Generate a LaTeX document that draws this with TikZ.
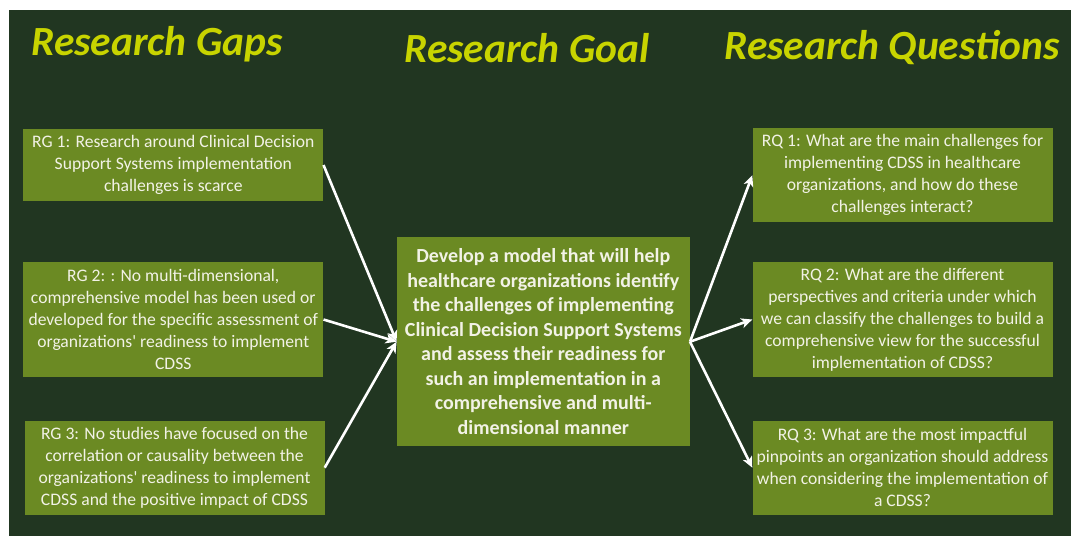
\documentclass[tikz,border=0pt]{standalone}
\usepackage{fontspec}
\setmainfont{Carlito}[Ligatures=TeXOff]
\usetikzlibrary{arrows.meta}
\definecolor{boardbg}{HTML}{213621}
\definecolor{boxfill}{HTML}{6B8A23}
\definecolor{headcol}{HTML}{C8D400}
\definecolor{boxtext}{HTML}{F2F2E6}
\tikzset{
  heading/.style={text=headcol, font=\fontsize{41.5}{45}\selectfont\bfseries\itshape, inner sep=0pt},
  infobox/.style={fill=boxfill, text=boxtext, align=center, inner sep=0pt,
    minimum width=300pt, font=\fontsize{17.6}{22}\selectfont},
  goalbox/.style={fill=boxfill, text=boxtext, align=center, inner sep=0pt,
    minimum width=293pt, minimum height=208.7pt, font=\fontsize{20}{24.5}\selectfont\bfseries},
  link/.style={draw=white, line width=2.6pt, -{Stealth[length=11pt,width=10pt,inset=3pt]}}
}
\begin{document}
\begin{tikzpicture}[x=1pt,y=-1pt]
  \useasboundingbox (0,0) rectangle (1071,536);
  \fill[white] (0,0) rectangle (1071,536);
  \fill[boardbg] (9,10) rectangle (1071,536);

  % column headings
  \node[heading] (hgaps) at (157,44) {Research Gaps};
  \node[heading] (hgoal) at (527,48) {Research Goal};
  \node[heading] (hques) at (892,48) {Research Questions};

  % research gaps
  \node[infobox, minimum height=71.4pt] (rg1) at (173.3,165)
    {RG 1: Research around Clinical Decision\\Support Systems implementation\\challenges is scarce};
  \node[infobox, minimum height=115.6pt] (rg2) at (173.3,319.5)
    {RG 2: : No multi-dimensional,\\comprehensive model has been used or\\developed for the specific assessment of\\organizations' readiness to implement\\CDSS};
  \node[infobox, minimum height=94pt] (rg3) at (174.5,467.7)
    {RG 3: No studies have focused on the\\correlation or causality between the\\organizations' readiness to implement\\CDSS and the positive impact of CDSS};

  % research goal
  \node[goalbox] (goal) at (543.3,341.7)
    {Develop a model that will help\\healthcare organizations identify\\the challenges of implementing\\Clinical Decision Support Systems\\and assess their readiness for\\such an implementation in a\\comprehensive and multi-\\dimensional manner};

  % research questions
  \node[infobox, minimum height=94pt] (rq1) at (902.5,175.3)
    {RQ 1: What are the main challenges for\\implementing CDSS in healthcare\\organizations, and how do these\\challenges interact?};
  \node[infobox, minimum height=115.6pt] (rq2) at (902.5,319.5)
    {RQ 2: What are the different\\perspectives and criteria under which\\we can classify the challenges to build a\\comprehensive view for the successful\\implementation of CDSS?};
  \node[infobox, minimum height=94pt] (rq3) at (902.5,467.7)
    {RQ 3: What are the most impactful\\pinpoints an organization should address\\when considering the implementation of\\a CDSS?};

  % connectors
  \draw[link] (rg1.east) -- (goal.west);
  \draw[link] (rg2.east) -- (goal.west);
  \draw[link] (rg3.east) -- (goal.west);
  \draw[link] (goal.east) -- (rq1.west);
  \draw[link] (goal.east) -- (rq2.west);
  \draw[link] (goal.east) -- (rq3.west);
\end{tikzpicture}
\end{document}
